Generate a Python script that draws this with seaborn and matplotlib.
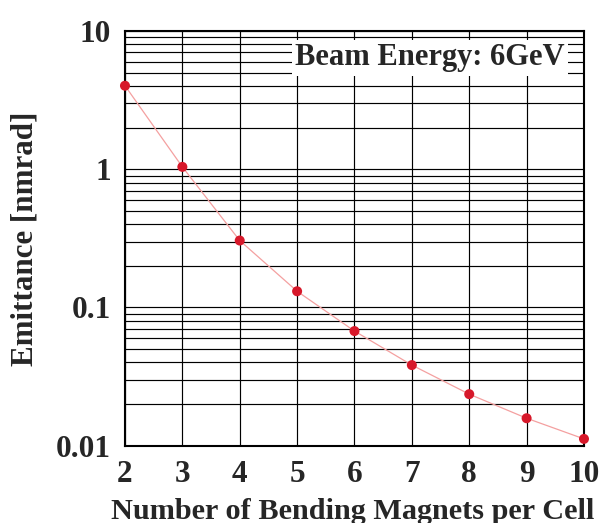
import matplotlib
matplotlib.use("Agg")
import matplotlib.pyplot as plt
import seaborn as sns
import pandas as pd
from matplotlib.ticker import LogLocator, FixedLocator, FixedFormatter

n_magnets = [2, 3, 4, 5, 6, 7, 8, 9, 10]
emittance = [4.02, 1.04, 0.305, 0.131, 0.0675, 0.0383, 0.0236, 0.0158, 0.0112]
y_ticks = [0.01, 0.1, 1, 10]
y_tick_labels = ["0.01", "0.1", "1", "10"]

sns.set_theme(style="white")
plt.rcParams['font.family'] = ['Liberation Serif', 'DejaVu Serif']
plt.rcParams['font.weight'] = 'bold'

df = pd.DataFrame({"n": n_magnets, "e": emittance})

fig = plt.figure(figsize=(6.0, 5.23), dpi=100)
ax = fig.add_axes([0.2083, 0.1478, 0.765, 0.7929])

ax.set_yscale("log")
ax.set_xlim(2, 10)
ax.set_ylim(0.01, 10)

sns.lineplot(data=df, x="n", y="e", ax=ax, color="#f4a0a0", linewidth=0.9,
             zorder=3, legend=False)
sns.scatterplot(data=df, x="n", y="e", ax=ax, color="#d7182a", s=52,
                edgecolor="none", zorder=4, legend=False, clip_on=False)

ax.xaxis.set_major_locator(FixedLocator(n_magnets))
ax.yaxis.set_major_locator(FixedLocator(y_ticks))
ax.yaxis.set_major_formatter(FixedFormatter(y_tick_labels))
ax.yaxis.set_minor_locator(LogLocator(base=10, subs=range(2, 10)))
ax.yaxis.set_minor_formatter(FixedFormatter([]))

ax.grid(True, which="both", axis="y", color="black", linewidth=0.85)
ax.grid(True, which="major", axis="x", color="black", linewidth=0.85)
ax.set_axisbelow(True)

ax.tick_params(axis="both", which="both", length=0, labelsize=22.5)
ax.tick_params(axis="x", pad=10)
ax.tick_params(axis="y", pad=10)
for lab in ax.get_xticklabels() + ax.get_yticklabels():
    lab.set_fontweight("bold")

for sp in ax.spines.values():
    sp.set_color("black")
    sp.set_linewidth(1.5)

ax.set_xlabel("Number of Bending Magnets per Cell", fontsize=21.8, fontweight="bold")
ax.xaxis.set_label_coords(0.496, -0.125)
ax.set_ylabel("Emittance [nmrad]", fontsize=22.3, fontweight="bold", labelpad=12)

ax.text(0.958, 0.935, "Beam Energy: 6GeV", transform=ax.transAxes, ha="right", va="center",
        fontsize=22, fontweight="bold", zorder=5,
        bbox=dict(facecolor="white", edgecolor="none", pad=2.5))

fig.savefig("out.png", dpi=100)
